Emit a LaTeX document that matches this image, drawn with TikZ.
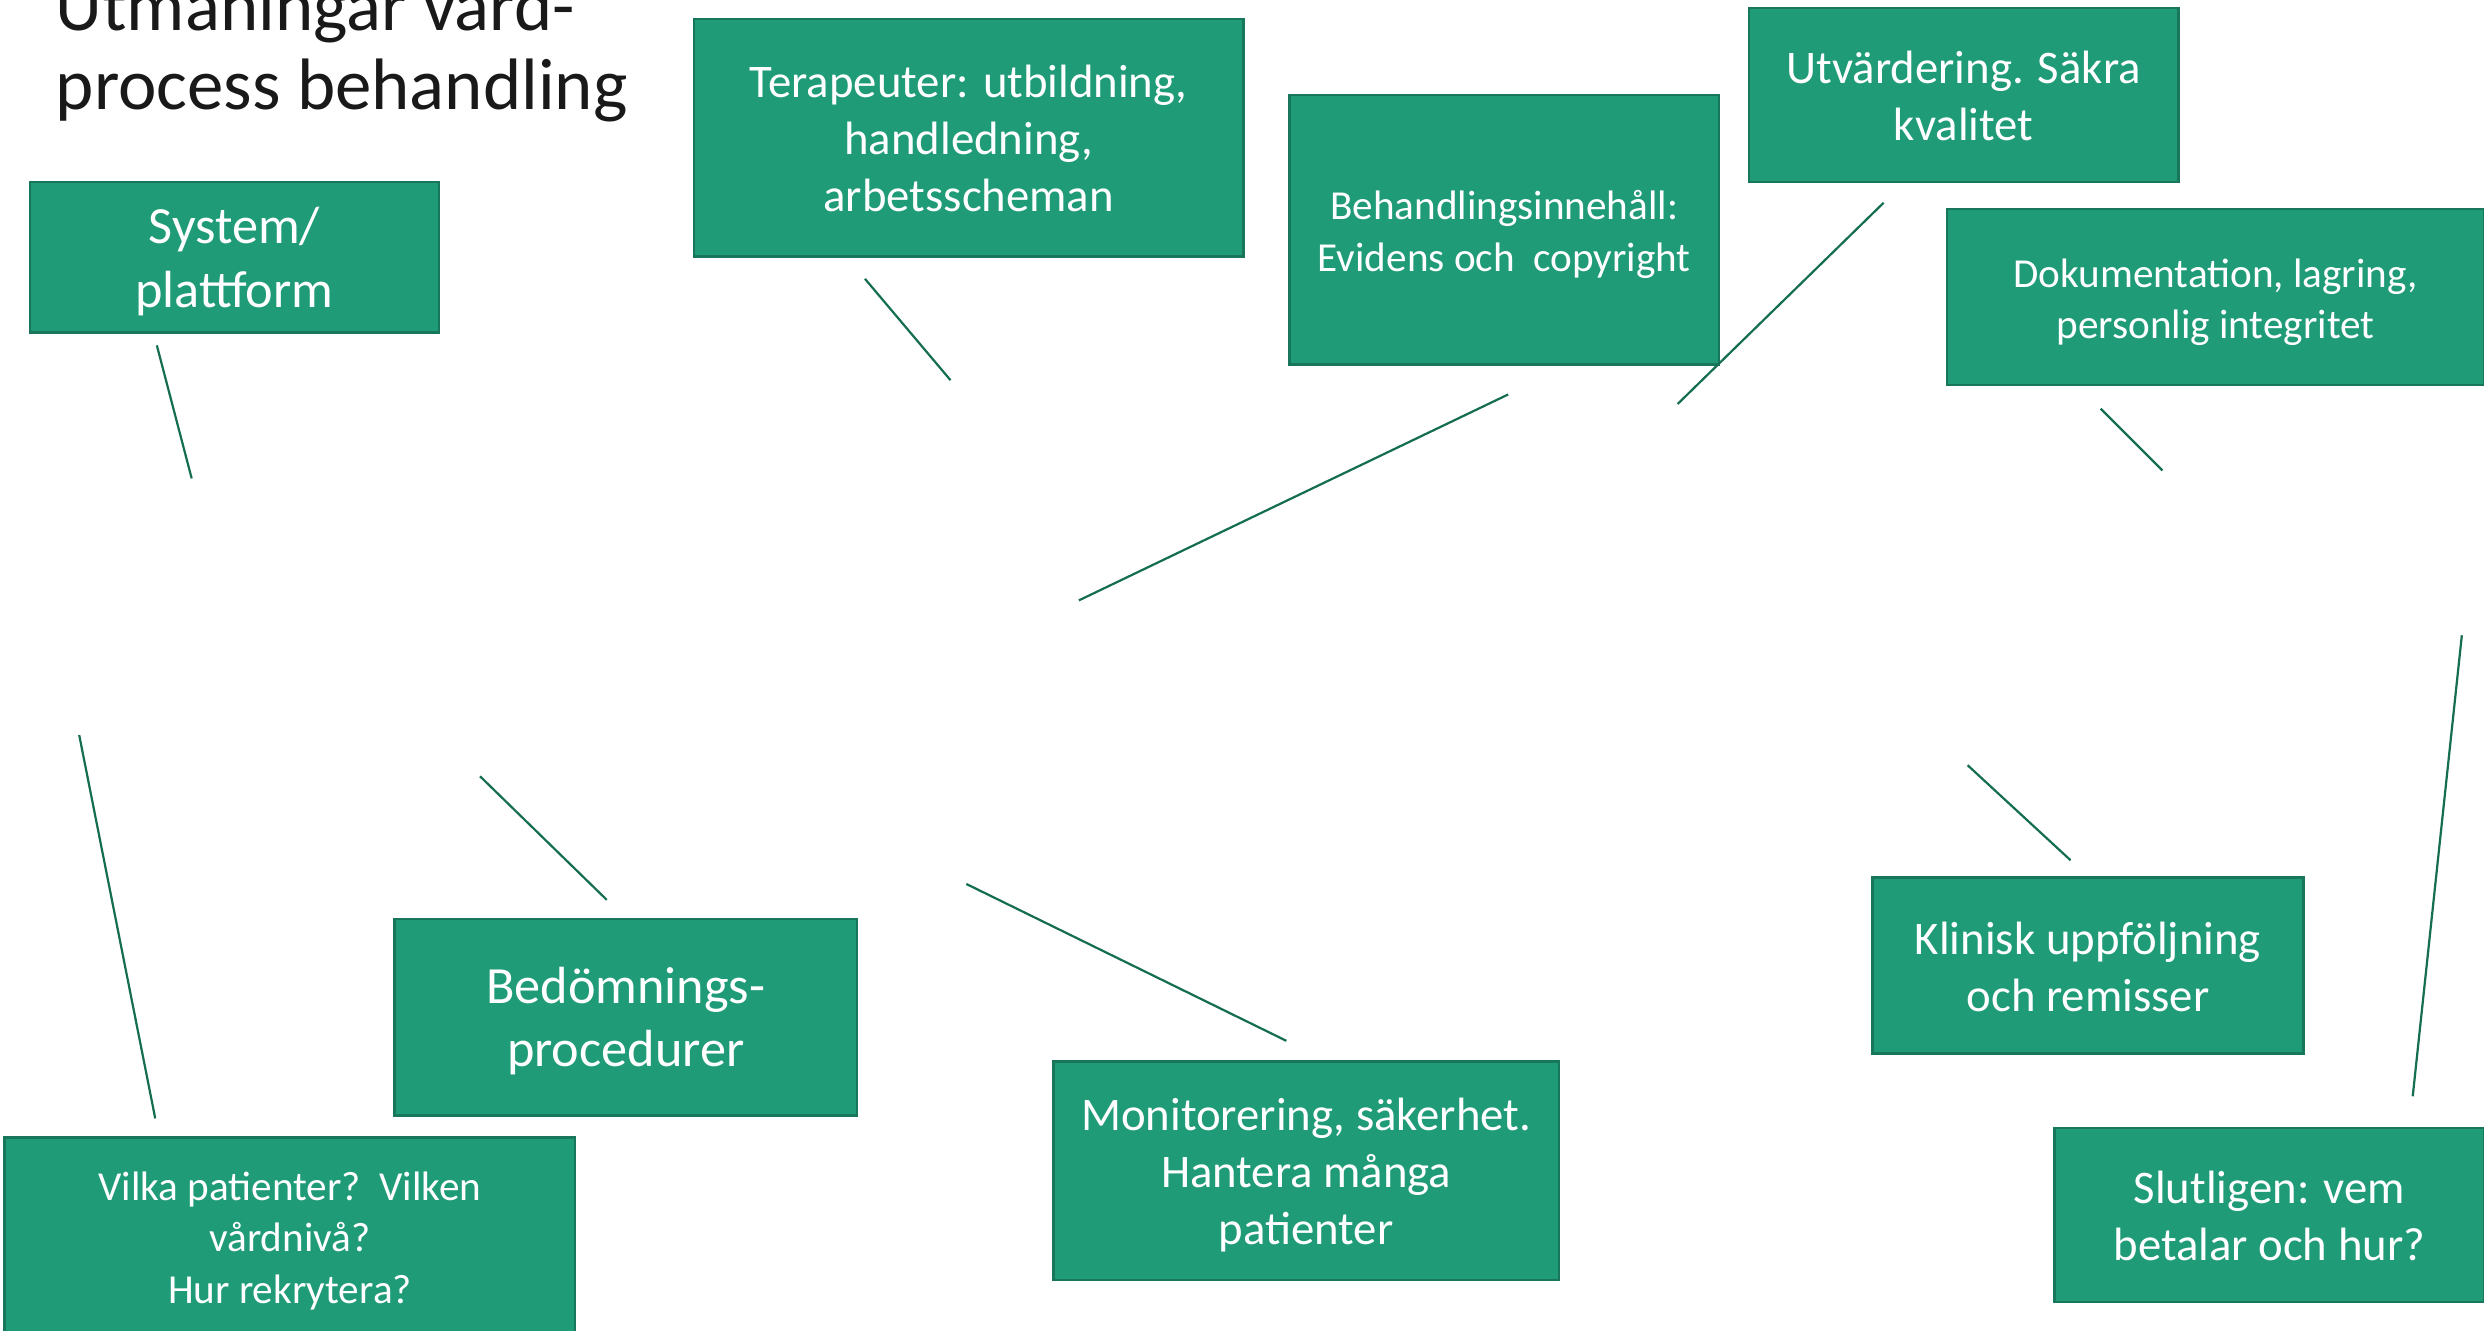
\documentclass[tikz,border=0pt]{standalone}
\usepackage{fontspec}
\setmainfont{Carlito}
\definecolor{boxfill}{HTML}{1F9B78}
\definecolor{boxedge}{HTML}{18765B}
\definecolor{linegreen}{HTML}{166E52}
\newcommand\boxtopstrut{\rule{0pt}{\dimexpr0.7\baselineskip+7pt\relax}}
\begin{document}
\begin{tikzpicture}[x=1pt,y=-1pt,
  box/.style={draw=boxedge, line width=1.6pt, fill=boxfill, text=white, align=center, inner sep=0pt},
  big/.style={font=\fontsize{33}{40}\selectfont},
  mid/.style={font=\fontsize{29.5}{36}\selectfont},
  small/.style={font=\fontsize{26}{32.5}\selectfont},
  conn/.style={draw=linegreen, line width=1.4pt}]
\useasboundingbox (0,0) rectangle (1568,840);
\clip (0,0) rectangle (1568,840);
% title
\node[anchor=base west, align=left, inner sep=0pt, text=black!90, font=\fontsize{46}{50}\selectfont] (title) at (35,69) {Utmaningar vård-\\process behandling};
% boxes
\node[box, big, minimum width=258pt, minimum height=95pt] (sys) at (148,162.5) {\boxtopstrut System/\\plattform\strut};
\node[box, mid, minimum width=347pt, minimum height=150pt] (ter) at (611.5,87) {\boxtopstrut Terapeuter: utbildning,\\handledning,\\arbetsscheman\strut};
\node[box, small, minimum width=271pt, minimum height=170pt] (beh) at (949.5,145) {\boxtopstrut Behandlingsinnehåll:\\Evidens och\ \ copyright\strut};
\node[box, mid, minimum width=271pt, minimum height=110pt] (utv) at (1239.5,60) {\boxtopstrut Utvärdering. Säkra\\kvalitet\strut};
\node[box, small, minimum width=339pt, minimum height=111pt] (dok) at (1398.5,187.5) {\boxtopstrut Dokumentation, lagring,\\personlig integritet\strut};
\node[box, big, minimum width=292pt, minimum height=124pt] (bed) at (395,642) {\boxtopstrut Bedömnings-\\procedurer\strut};
\node[box, small, minimum width=360pt, minimum height=124pt] (vil) at (183,780) {\boxtopstrut Vilka patienter?\ \ Vilken\\vårdnivå?\\Hur rekrytera?\strut};
\node[box, mid, minimum width=319pt, minimum height=138pt] (mon) at (824.5,739) {\boxtopstrut Monitorering, säkerhet.\\Hantera många\\patienter\strut};
\node[box, mid, minimum width=272pt, minimum height=111pt] (kli) at (1318,609.5) {\boxtopstrut Klinisk uppföljning\\och remisser\strut};
\node[box, mid, minimum width=271pt, minimum height=110pt] (slu) at (1432.5,767) {\boxtopstrut Slutligen: vem\\betalar och hur?\strut};
% connector end points
\coordinate (c1a) at (99,218);   \coordinate (c1b) at (121,302);
\coordinate (c2a) at (546,176);  \coordinate (c2b) at (600,240);
\coordinate (c3a) at (952,249);  \coordinate (c3b) at (681,379);
\coordinate (c4a) at (1189,128); \coordinate (c4b) at (1059,255);
\coordinate (c5a) at (1326,258); \coordinate (c5b) at (1365,297);
\coordinate (c6a) at (1554,401); \coordinate (c6b) at (1523,692);
\coordinate (c7a) at (1242,483); \coordinate (c7b) at (1307,543);
\coordinate (c8a) at (610,558);  \coordinate (c8b) at (812,657);
\coordinate (c9a) at (303,490);  \coordinate (c9b) at (383,568);
\coordinate (c10a) at (50,464);  \coordinate (c10b) at (98,706);
\draw[conn] (c1a) -- (c1b);
\draw[conn] (c2a) -- (c2b);
\draw[conn] (c3a) -- (c3b);
\draw[conn] (c4a) -- (c4b);
\draw[conn] (c5a) -- (c5b);
\draw[conn] (c6a) -- (c6b);
\draw[conn] (c7a) -- (c7b);
\draw[conn] (c8a) -- (c8b);
\draw[conn] (c9a) -- (c9b);
\draw[conn] (c10a) -- (c10b);
\end{tikzpicture}
\end{document}
